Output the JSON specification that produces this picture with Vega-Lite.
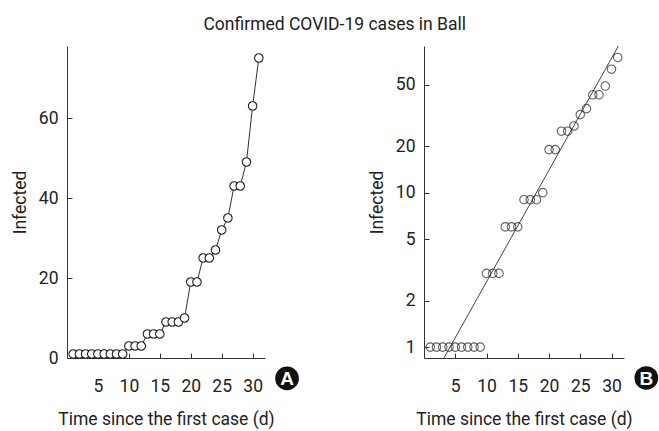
{
  "$schema": "https://vega.github.io/schema/vega-lite/v6.json",
  "background": "white",
  "padding": {"left": 11, "top": 15, "right": 2, "bottom": 2},
  "title": {"text": "Confirmed COVID-19 cases in Ball", "font": "Roboto, sans-serif", "fontSize": 17.5, "fontWeight": "normal", "color": "#222", "anchor": "middle", "offset": 11},
  "datasets": {
    "cases": [
      {"day": 1, "infected": 1}, {"day": 2, "infected": 1}, {"day": 3, "infected": 1}, {"day": 4, "infected": 1},
      {"day": 5, "infected": 1}, {"day": 6, "infected": 1}, {"day": 7, "infected": 1}, {"day": 8, "infected": 1},
      {"day": 9, "infected": 1}, {"day": 10, "infected": 3}, {"day": 11, "infected": 3}, {"day": 12, "infected": 3},
      {"day": 13, "infected": 6}, {"day": 14, "infected": 6}, {"day": 15, "infected": 6}, {"day": 16, "infected": 9},
      {"day": 17, "infected": 9}, {"day": 18, "infected": 9}, {"day": 19, "infected": 10}, {"day": 20, "infected": 19},
      {"day": 21, "infected": 19}, {"day": 22, "infected": 25}, {"day": 23, "infected": 25}, {"day": 24, "infected": 27},
      {"day": 25, "infected": 32}, {"day": 26, "infected": 35}, {"day": 27, "infected": 43}, {"day": 28, "infected": 43},
      {"day": 29, "infected": 49}, {"day": 30, "infected": 63}, {"day": 31, "infected": 75}
    ],
    "fit": [{"day": 3.2, "infected": 0.852}, {"day": 31.1, "infected": 89}],
    "tagA": [{"day": 35.56, "infected": -5.1, "label": "A"}],
    "tagB": [{"day": 35.57, "infected": 0.631, "label": "B"}]
  },
  "config": {
    "view": {"stroke": null},
    "font": "Roboto, sans-serif",
    "axis": {
      "grid": false, "domainColor": "#333", "tickColor": "#333", "domainWidth": 1, "tickWidth": 1, "tickSize": -5,
      "labelFont": "Roboto, sans-serif", "labelFontSize": 17.5, "labelColor": "#222",
      "titleFont": "Roboto, sans-serif", "titleFontSize": 17.5, "titleFontWeight": "normal", "titleColor": "#222"
    },
    "axisX": {"labelPadding": 24, "titlePadding": 16},
    "axisY": {"labelPadding": 14, "titlePadding": 9}
  },
  "spacing": 69,
  "hconcat": [
    {
      "width": 198, "height": 312,
      "encoding": {
        "x": {"field": "day", "type": "quantitative", "scale": {"domain": [0, 32], "nice": false}, "axis": {"values": [5, 10, 15, 20, 25, 30], "labelOverlap": false, "labelSeparation": 0, "labelBound": false, "labelFlush": false, "title": "Time since the first case (d)"}},
        "y": {"field": "infected", "type": "quantitative", "scale": {"domain": [0, 78], "nice": false}, "axis": {"values": [0, 20, 40, 60], "labelOverlap": false, "title": "Infected"}}
      },
      "layer": [
        {
          "data": {"name": "cases"},
          "mark": {"type": "line", "color": "#333", "strokeWidth": 1}
        },
        {
          "data": {"name": "cases"},
          "mark": {"type": "point", "shape": "circle", "filled": true, "fill": "white", "fillOpacity": 1, "stroke": "#222", "strokeWidth": 1.1, "strokeOpacity": 1, "size": 72}
        },
        {
          "data": {"name": "tagA"},
          "mark": {"type": "point", "shape": "circle", "filled": true, "color": "#111", "opacity": 1, "size": 560}
        },
        {
          "data": {"name": "tagA"},
          "mark": {"type": "text", "color": "white", "font": "Liberation Sans, Arial, sans-serif", "fontWeight": "bold", "fontSize": 19, "baseline": "middle", "align": "center", "dy": 1},
          "encoding": {"text": {"field": "label"}}
        }
      ]
    },
    {
      "width": 200, "height": 312,
      "encoding": {
        "x": {"field": "day", "type": "quantitative", "scale": {"domain": [0, 32], "nice": false}, "axis": {"values": [5, 10, 15, 20, 25, 30], "labelOverlap": false, "labelSeparation": 0, "labelBound": false, "labelFlush": false, "title": "Time since the first case (d)"}},
        "y": {"field": "infected", "type": "quantitative", "scale": {"type": "log", "domain": [0.85, 89], "nice": false}, "axis": {"values": [1, 2, 5, 10, 20, 50], "labelOverlap": false, "format": "d", "title": "Infected"}}
      },
      "layer": [
        {
          "data": {"name": "fit"},
          "mark": {"type": "line", "color": "#444", "strokeWidth": 1}
        },
        {
          "data": {"name": "cases"},
          "mark": {"type": "point", "shape": "circle", "filled": false, "stroke": "#222", "strokeWidth": 1.1, "strokeOpacity": 1, "size": 72}
        },
        {
          "data": {"name": "tagB"},
          "mark": {"type": "point", "shape": "circle", "filled": true, "color": "#111", "opacity": 1, "size": 560}
        },
        {
          "data": {"name": "tagB"},
          "mark": {"type": "text", "color": "white", "font": "Liberation Sans, Arial, sans-serif", "fontWeight": "bold", "fontSize": 19, "baseline": "middle", "align": "center", "dy": 1},
          "encoding": {"text": {"field": "label"}}
        }
      ]
    }
  ]
}
